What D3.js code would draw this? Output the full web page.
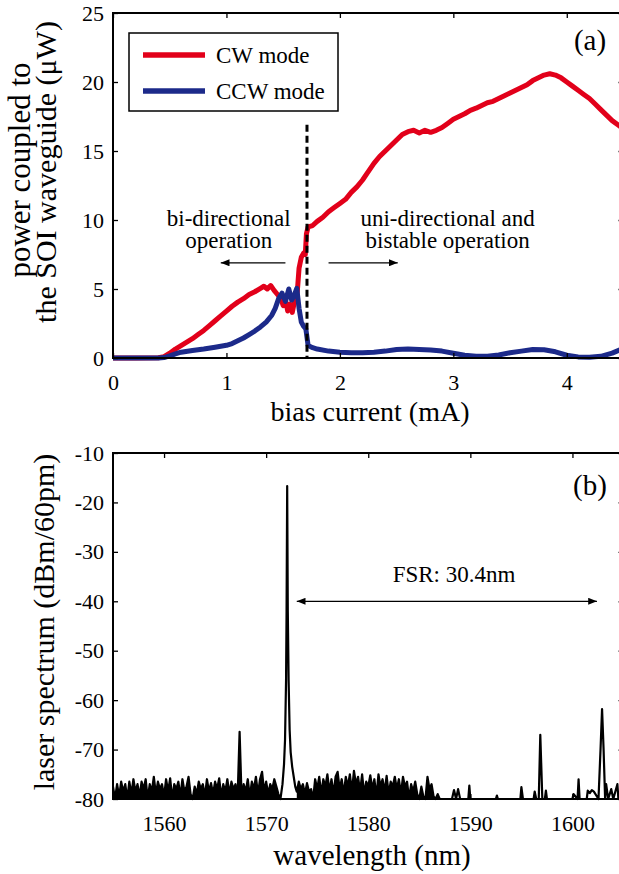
<!DOCTYPE html>
<html lang="en">
<head>
<meta charset="UTF-8">
<title>Ring laser</title>
<style>
  body { margin: 0; background: #fff; }
  svg text { font-family: "Liberation Serif", "Times New Roman", serif; fill: #000; }
</style>
</head>
<body>
<svg id="svg" width="619" height="874"></svg>
<script src="https://d3js.org/d3.v7.min.js"></script>
<script>
// ---------- DATA : panel (a) ----------
const cwCurrent = [0, 0.2, 0.4, 0.45, 0.5, 0.55, 0.6, 0.65, 0.7, 0.75, 0.8, 0.85, 0.9, 0.95, 1.0, 1.05, 1.1, 1.15, 1.2, 1.25, 1.3,
  1.33, 1.36, 1.39, 1.42, 1.45, 1.48, 1.5, 1.52, 1.54, 1.56, 1.58, 1.6, 1.62, 1.64, 1.66, 1.68, 1.695, 1.705, 1.72, 1.76,
  1.8, 1.85, 1.9, 1.95, 2.0, 2.05, 2.1, 2.15, 2.2, 2.25, 2.3, 2.35, 2.4, 2.45, 2.5, 2.55, 2.6, 2.65, 2.7, 2.75, 2.8, 2.85,
  2.9, 2.95, 3.0, 3.05, 3.1, 3.15, 3.2, 3.25, 3.3, 3.35, 3.4, 3.45, 3.5, 3.55, 3.6, 3.65, 3.7, 3.75, 3.8, 3.85, 3.9, 3.95,
  4.0, 4.05, 4.1, 4.15, 4.2, 4.25, 4.3, 4.35, 4.4, 4.45, 4.5]
const cwPower = [0, 0, 0.02, 0.1, 0.35, 0.65, 0.9, 1.15, 1.4, 1.7, 2.0, 2.35, 2.7, 3.05, 3.4, 3.75, 4.05, 4.3, 4.6, 4.8, 5.05,
  5.2, 5.0, 5.25, 4.9, 4.6, 4.3, 3.8, 4.2, 3.4, 3.9, 3.3, 4.1, 4.3, 6.5, 7.3, 7.6, 7.5, 9.0, 9.5, 9.6,
  9.9, 10.2, 10.6, 10.9, 11.2, 11.5, 12.0, 12.4, 12.9, 13.5, 14.1, 14.6, 15.0, 15.4, 15.8, 16.2, 16.4, 16.5, 16.3, 16.5, 16.35, 16.5,
  16.7, 17.0, 17.3, 17.5, 17.7, 17.95, 18.1, 18.3, 18.5, 18.6, 18.8, 19.0, 19.2, 19.4, 19.6, 19.8, 20.1, 20.3, 20.5, 20.6, 20.5, 20.3,
  20.0, 19.7, 19.4, 19.1, 18.8, 18.4, 18.0, 17.6, 17.2, 16.9, 16.6]

const ccwCurrent = [0, 0.4, 0.45, 0.5, 0.55, 0.6, 0.7, 0.8, 0.9, 1.0, 1.05, 1.1, 1.15, 1.2, 1.25, 1.3, 1.35, 1.4, 1.43, 1.46,
  1.49, 1.52, 1.55, 1.575, 1.6, 1.62, 1.64, 1.66, 1.68, 1.7, 1.72, 1.76, 1.8, 1.9, 2.0, 2.1, 2.2, 2.3, 2.4, 2.5, 2.6, 2.7,
  2.8, 2.9, 3.0, 3.1, 3.2, 3.3, 3.4, 3.5, 3.6, 3.7, 3.8, 3.9, 4.0, 4.1, 4.2, 4.3, 4.4, 4.5]
const ccwPower = [0, 0, 0.03, 0.15, 0.3, 0.42, 0.55, 0.65, 0.78, 0.92, 1.05, 1.25, 1.45, 1.7, 1.95, 2.25, 2.6, 3.1, 3.6, 4.3,
  4.7, 4.1, 5.0, 4.2, 4.6, 5.05, 3.6, 2.6, 2.3, 2.1, 0.9, 0.75, 0.65, 0.5, 0.42, 0.38, 0.38, 0.42, 0.5, 0.62, 0.65, 0.62,
  0.58, 0.5, 0.35, 0.2, 0.12, 0.12, 0.22, 0.38, 0.5, 0.62, 0.6, 0.45, 0.2, 0.08, 0.05, 0.12, 0.35, 0.7]

const currentTicks = [0, 1, 2, 3, 4]
const powerTicks = [0, 5, 10, 15, 20, 25]
const switchCurrent = 1.71   // dashed line
const legendLabels = ['CW mode', 'CCW mode']

// ---------- DATA : panel (b) ----------
// noise floor sampled every 0.2 nm
const floorStepNm = 0.2
const floorAStart = 1555.0
const floorA = [
  -77.5, -80, -77, -79.5, -76.5, -78.5, -77, -80, -76.5, -79,
  -76, -78.5, -77, -79.5, -76.5, -78, -76, -80, -77, -78.5,
  -75.5, -79, -76.5, -78, -77, -79.5, -76, -78.5, -75.8, -80,
  -77, -78, -76.5, -79.5, -76, -78.5, -77.5, -75.5, -79, -80,
  -77.5, -79, -76.5, -78, -77, -79.5, -76, -78.5, -76.8, -79,
  -76.5, -78, -75.8, -79.5, -77, -78.5, -76, -79, -76.5, -78,
  -77, -80, -66.4, -80, -77, -78.5, -76, -79.5, -76.5, -78,
  -75.5, -79, -76, -74.5, -78.5, -76.5, -79, -77, -78, -76,
  -77.5, -79, -80]
const floorBStart = 1573.0
const floorB = [
  -78.5, -76.5, -78, -77, -79, -76.8, -78.5, -78, -80, -76,
  -78, -75.5, -79, -76, -77.5, -75, -78.5, -76, -79, -75.5,
  -74.5, -78, -76, -79, -75.5, -77.5, -75, -78.5, -74.3, -77,
  -75.5, -78.5, -75, -79, -76.5, -77.5, -75.2, -78, -76, -79.5,
  -75, -77.5, -76, -78.5, -75.3, -79, -76.5, -77.5, -75.5, -78,
  -76, -79, -75.5, -77.5, -76.5, -80, -77, -78.5, -76.5, -79,
  -80, -77.5, -79.5, -80, -75.5, -78, -77, -79.5, -80, -79,
  -80]
// lasing peak
const peakWl  = [1571.4, 1571.6, 1571.75, 1571.85, 1571.95, 1572.0, 1572.06, 1572.12, 1572.2, 1572.3, 1572.4, 1572.55, 1572.7, 1572.85]
const peakDbm = [-80, -77, -73, -68, -56, -42, -16.7, -42, -56, -66, -70.5, -73.5, -75.5, -77.5]
// long-wavelength tail with side modes
const tailWl  = [1587.2, 1588.2, 1588.4, 1588.6, 1588.8, 1589.0, 1589.8, 1589.9, 1590.0, 1592.5, 1592.6, 1592.7, 1594.9, 1595.0,
  1595.15, 1596.2, 1596.3, 1596.45, 1596.7, 1596.85, 1597.05, 1597.3, 1597.4, 1597.5, 1600.0, 1600.1, 1600.5, 1600.6, 1600.7,
  1601.4, 1601.5, 1601.7, 1601.9, 1602.1, 1602.55, 1602.75, 1602.9, 1603.05, 1603.2, 1603.3, 1603.5, 1603.8, 1604.0,
  1604.4, 1604.5, 1605]
const tailDbm = [-80, -80, -78.2, -80, -78, -80, -80, -77.3, -80, -80, -79.3, -80, -80, -77.6,
  -80, -80, -78.5, -80, -80, -67, -80, -80, -78.3, -80, -80, -79, -80, -76, -80,
  -80, -78.3, -78.8, -78.2, -78.5, -80, -70, -61.8, -70, -80, -77, -80, -78, -80,
  -77, -80, -80]

const wlTicks = [1560, 1570, 1580, 1590, 1600]
const dbmTicks = [-80, -70, -60, -50, -40, -30, -20, -10]
const fsrFrom = 1573.0, fsrTo = 1602.4, fsrLevel = -40

// ---------- LAYOUT ----------
const left = 113, right = 623.5
const red = '#e2001a', blue = '#1c2a8a'
const serif = '"Liberation Serif", "Times New Roman", serif'
const svg = d3.select('#svg')

const defs = svg.append('defs')
defs.append('marker').attr('id', 'head')
  .attr('viewBox', '0 0 10 8').attr('refX', 10).attr('refY', 4)
  .attr('markerWidth', 10).attr('markerHeight', 7).attr('markerUnits', 'userSpaceOnUse')
  .attr('orient', 'auto-start-reverse')
  .append('path').attr('d', 'M0,0 L10,4 L0,8 Z').attr('fill', '#000')

// box with inward ticks on all four sides
function drawFrame(g, x, y, xTicks, yTicks) {
  const [x0, x1] = x.range()
  const [yb, yt] = y.range()
  const fmt = d => String(d)
  const blank = () => ''
  g.append('g').attr('transform', `translate(0,${yb})`)
    .call(d3.axisBottom(x).tickValues(xTicks).tickFormat(fmt).tickSizeInner(-5).tickSizeOuter(0).tickPadding(16))
  g.append('g').attr('transform', `translate(0,${yt})`)
    .call(d3.axisTop(x).tickValues(xTicks).tickFormat(blank).tickSizeInner(-5).tickSizeOuter(0))
  g.append('g').attr('transform', `translate(${x0},0)`)
    .call(d3.axisLeft(y).tickValues(yTicks).tickFormat(fmt).tickSizeInner(-5).tickSizeOuter(0).tickPadding(9))
  g.append('g').attr('transform', `translate(${x1},0)`)
    .call(d3.axisRight(y).tickValues(yTicks).tickFormat(blank).tickSizeInner(-5).tickSizeOuter(0))
  g.selectAll('.domain').remove()
  g.selectAll('.tick line').attr('stroke', '#000').attr('stroke-width', 1.3)
  g.selectAll('.tick text').attr('font-size', 22).style('font-family', serif)
  g.append('rect').attr('x', x0).attr('y', yt).attr('width', x1 - x0).attr('height', yb - yt)
    .attr('fill', 'none').attr('stroke', '#000').attr('stroke-width', 2)
}

// ---------- PANEL (a) ----------
const xa = d3.scaleLinear().domain([0, 4.5]).range([left, right])
const ya = d3.scaleLinear().domain([0, 25]).range([358, 13])
const ga = svg.append('g')

const line = d3.line().x(d => xa(d[0])).y(d => ya(d[1]))
ga.append('path').datum(d3.zip(cwCurrent, cwPower)).attr('d', line)
  .attr('fill', 'none').attr('stroke', red).attr('stroke-width', 5).attr('stroke-linejoin', 'round')
ga.append('path').datum(d3.zip(ccwCurrent, ccwPower)).attr('d', line)
  .attr('fill', 'none').attr('stroke', blue).attr('stroke-width', 5).attr('stroke-linejoin', 'round')

ga.append('line').attr('x1', xa(switchCurrent)).attr('x2', xa(switchCurrent))
  .attr('y1', ya(16.9)).attr('y2', ya(0))
  .attr('stroke', '#000').attr('stroke-width', 3).attr('stroke-dasharray', '7,4')

drawFrame(ga, xa, ya, currentTicks, powerTicks)

// annotations
const note = (g, x, y, t, size) => g.append('text').attr('x', x).attr('y', y)
  .attr('text-anchor', 'middle').attr('font-size', size).text(t)
note(ga, xa(1.02), ya(9.6), 'bi-directional', 23)
note(ga, xa(1.02), ya(7.95), 'operation', 23)
note(ga, xa(2.95), ya(9.6), 'uni-directional and', 23)
note(ga, xa(2.95), ya(7.95), 'bistable operation', 23)
ga.append('line').attr('x1', xa(1.52)).attr('x2', xa(0.95)).attr('y1', ya(6.9)).attr('y2', ya(6.9))
  .attr('stroke', '#000').attr('stroke-width', 1.3).attr('marker-end', 'url(#head)')
ga.append('line').attr('x1', xa(1.9)).attr('x2', xa(2.51)).attr('y1', ya(6.9)).attr('y2', ya(6.9))
  .attr('stroke', '#000').attr('stroke-width', 1.3).attr('marker-end', 'url(#head)')
note(ga, 590, 50, '(a)', 29)

// legend
const lg = ga.append('g')
lg.append('rect').attr('x', 129).attr('y', 33).attr('width', 209).attr('height', 78)
  .attr('fill', '#fff').attr('stroke', '#000').attr('stroke-width', 1.5)
;[red, blue].forEach((c, i) => {
  const yy = 55 + i * 36
  lg.append('line').attr('x1', 143).attr('x2', 205).attr('y1', yy).attr('y2', yy)
    .attr('stroke', c).attr('stroke-width', 5.5)
  lg.append('text').attr('x', 216).attr('y', yy + 8).attr('font-size', 23).text(legendLabels[i])
})

// axis titles
svg.append('text').attr('x', 370).attr('y', 421).attr('text-anchor', 'middle')
  .attr('font-size', 28).text('bias current (mA)')
svg.append('text').attr('transform', 'translate(30,170) rotate(-90)').attr('text-anchor', 'middle')
  .attr('font-size', 31).text('power coupled to')
svg.append('text').attr('transform', 'translate(56,172) rotate(-90)').attr('text-anchor', 'middle')
  .attr('font-size', 30).text('the SOI waveguide (μW)')

// ---------- PANEL (b) ----------
const xb = d3.scaleLinear().domain([1555, 1605]).range([left, right])
const yb = d3.scaleLinear().domain([-80, -10]).range([799, 453])
const gb = svg.append('g')

const floorPtsA = floorA.map((v, i) => [floorAStart + i * floorStepNm, v])
const floorPtsB = floorB.map((v, i) => [floorBStart + i * floorStepNm, v])
const spectrum = floorPtsA
  .concat(peakWl.map((w, i) => [w, peakDbm[i]]))
  .concat(floorPtsB)
  .concat(tailWl.map((w, i) => [w, tailDbm[i]]))
  .sort((a, b) => a[0] - b[0])

// the noise floor is dense on the analyser trace: shade under it
const floorArea = d3.area().x(d => xb(d[0])).y0(yb(-80)).y1(d => yb(d[1]))
;[floorPtsA, floorPtsB].forEach(pts => {
  gb.append('path').datum(pts).attr('d', floorArea).attr('fill', '#000')
})
gb.append('path').datum(spectrum)
  .attr('d', d3.line().x(d => xb(d[0])).y(d => yb(d[1])))
  .attr('fill', 'none').attr('stroke', '#000').attr('stroke-width', 2.2).attr('stroke-linejoin', 'round')

drawFrame(gb, xb, yb, wlTicks, dbmTicks)

gb.append('line').attr('x1', xb(fsrFrom)).attr('x2', xb(fsrTo)).attr('y1', yb(fsrLevel)).attr('y2', yb(fsrLevel))
  .attr('stroke', '#000').attr('stroke-width', 1.3)
  .attr('marker-start', 'url(#head)').attr('marker-end', 'url(#head)')
note(gb, xb(1588.4), yb(-36.1), 'FSR: 30.4nm', 23)
note(gb, 590, 495, '(b)', 29)

svg.append('text').attr('x', 372).attr('y', 865).attr('text-anchor', 'middle')
  .attr('font-size', 29).text('wavelength (nm)')
svg.append('text').attr('transform', 'translate(54,622) rotate(-90)').attr('text-anchor', 'middle')
  .attr('font-size', 30).text('laser spectrum (dBm/60pm)')
</script>
</body>
</html>
